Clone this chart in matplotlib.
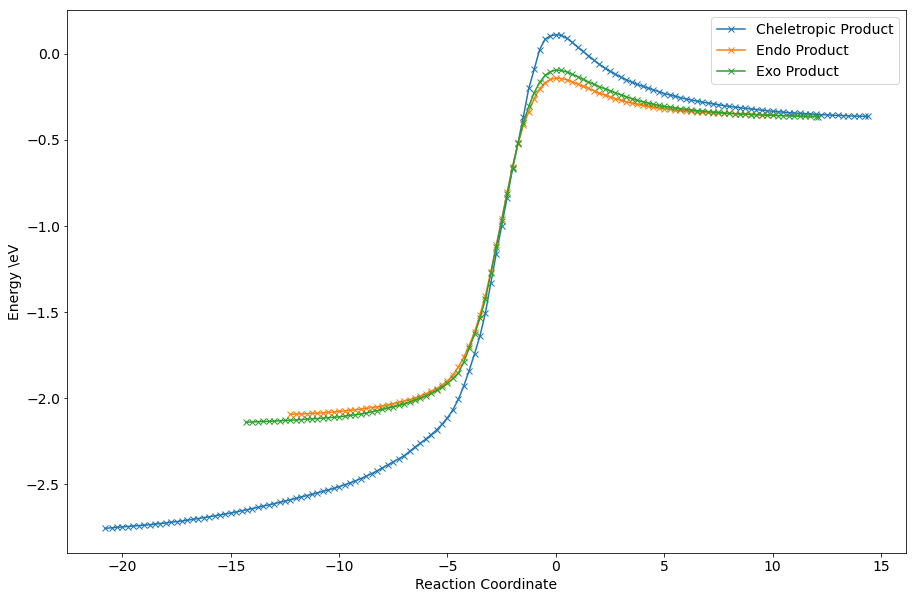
import matplotlib
matplotlib.use("Agg")
import matplotlib.pyplot as plt

plt.rcParams['font.family'] = ['DejaVu Sans']
plt.rcParams['font.size'] = 14

series_names = ["Cheletropic Product", "Endo Product", "Exo Product"]

chel_x = [-20.8, -20.5, -20.25, -20.0, -19.75, -19.5, -19.25, -19.0, -18.75, -18.5, -18.25, -18.0,
          -17.75, -17.5, -17.25, -17.0, -16.75, -16.5, -16.25, -16.0, -15.75, -15.5, -15.25, -15.0,
          -14.75, -14.5, -14.25, -14.0, -13.75, -13.5, -13.25, -13.0, -12.75, -12.5, -12.25, -12.0,
          -11.75, -11.5, -11.25, -11.0, -10.75, -10.5, -10.25, -10.0, -9.75, -9.5, -9.25, -9.0,
          -8.75, -8.5, -8.25, -8.0, -7.75, -7.5, -7.25, -7.0, -6.75, -6.5, -6.25, -6.0,
          -5.75, -5.5, -5.25, -5.0, -4.75, -4.5, -4.25, -4.0, -3.75, -3.5, -3.25, -3.0,
          -2.75, -2.5, -2.25, -2.0, -1.75, -1.5, -1.25, -1.0, -0.75, -0.5, -0.25, 0.0,
          0.25, 0.5, 0.75, 1.0, 1.25, 1.5, 1.75, 2.0, 2.25, 2.5, 2.75, 3.0,
          3.25, 3.5, 3.75, 4.0, 4.25, 4.5, 4.75, 5.0, 5.25, 5.5, 5.75, 6.0,
          6.25, 6.5, 6.75, 7.0, 7.25, 7.5, 7.75, 8.0, 8.25, 8.5, 8.75, 9.0,
          9.25, 9.5, 9.75, 10.0, 10.25, 10.5, 10.75, 11.0, 11.25, 11.5, 11.75, 12.0,
          12.25, 12.5, 12.75, 13.0, 13.25, 13.5, 13.75, 14.0, 14.25, 14.4]
chel_y = [-2.757, -2.754, -2.752, -2.749, -2.747, -2.744, -2.742, -2.739, -2.736, -2.733, -2.729, -2.726,
          -2.722, -2.718, -2.714, -2.710, -2.705, -2.700, -2.695, -2.690, -2.685, -2.679, -2.674, -2.668,
          -2.662, -2.655, -2.649, -2.642, -2.635, -2.628, -2.621, -2.614, -2.606, -2.599, -2.591, -2.583,
          -2.575, -2.567, -2.559, -2.551, -2.542, -2.534, -2.525, -2.515, -2.504, -2.493, -2.481, -2.468,
          -2.454, -2.439, -2.423, -2.405, -2.388, -2.370, -2.353, -2.335, -2.310, -2.285, -2.262, -2.238,
          -2.212, -2.184, -2.152, -2.114, -2.068, -2.008, -1.930, -1.840, -1.742, -1.638, -1.505, -1.330,
          -1.160, -1.000, -0.835, -0.670, -0.520, -0.365, -0.200, -0.090, 0.025, 0.085, 0.105, 0.112,
          0.108, 0.092, 0.068, 0.040, 0.015, -0.010, -0.035, -0.060, -0.081, -0.100, -0.118, -0.135,
          -0.150, -0.164, -0.176, -0.188, -0.198, -0.208, -0.219, -0.230, -0.238, -0.246, -0.254, -0.262,
          -0.268, -0.274, -0.280, -0.285, -0.290, -0.295, -0.300, -0.305, -0.309, -0.313, -0.316, -0.320,
          -0.323, -0.327, -0.330, -0.333, -0.336, -0.338, -0.341, -0.343, -0.345, -0.347, -0.349, -0.351,
          -0.353, -0.354, -0.356, -0.357, -0.358, -0.360, -0.361, -0.362, -0.363, -0.363]

endo_x = [-12.25, -12.0, -11.75, -11.5, -11.25, -11.0, -10.75, -10.5, -10.25, -10.0, -9.75, -9.5,
          -9.25, -9.0, -8.75, -8.5, -8.25, -8.0, -7.75, -7.5, -7.25, -7.0, -6.75, -6.5,
          -6.25, -6.0, -5.75, -5.5, -5.25, -5.0, -4.75, -4.5, -4.25, -4.0, -3.75, -3.5,
          -3.25, -3.0, -2.75, -2.5, -2.25, -2.0, -1.75, -1.5, -1.25, -1.0, -0.75, -0.5,
          -0.25, 0.0, 0.25, 0.5, 0.75, 1.0, 1.25, 1.5, 1.75, 2.0, 2.25, 2.5,
          2.75, 3.0, 3.25, 3.5, 3.75, 4.0, 4.25, 4.5, 4.75, 5.0, 5.25, 5.5,
          5.75, 6.0, 6.25, 6.5, 6.75, 7.0, 7.25, 7.5, 7.75, 8.0, 8.25, 8.5,
          8.75, 9.0, 9.25, 9.5, 9.75, 10.0]
endo_y = [-2.094, -2.093, -2.092, -2.091, -2.089, -2.088, -2.086, -2.083, -2.081, -2.078, -2.075, -2.071,
          -2.068, -2.064, -2.060, -2.055, -2.051, -2.046, -2.039, -2.032, -2.025, -2.018, -2.009, -2.000,
          -1.988, -1.975, -1.960, -1.945, -1.924, -1.900, -1.865, -1.820, -1.762, -1.695, -1.615, -1.515,
          -1.405, -1.265, -1.110, -0.960, -0.805, -0.655, -0.525, -0.415, -0.335, -0.260, -0.203, -0.167,
          -0.148, -0.141, -0.143, -0.150, -0.162, -0.175, -0.188, -0.200, -0.214, -0.228, -0.239, -0.250,
          -0.260, -0.270, -0.278, -0.286, -0.292, -0.298, -0.304, -0.309, -0.314, -0.318, -0.321, -0.325,
          -0.328, -0.331, -0.333, -0.336, -0.338, -0.340, -0.342, -0.343, -0.345, -0.346, -0.347, -0.348,
          -0.349, -0.351, -0.352, -0.353, -0.354, -0.355]

exo_x = [-14.3, -14.0, -13.75, -13.5, -13.25, -13.0, -12.75, -12.5, -12.25, -12.0, -11.75, -11.5,
         -11.25, -11.0, -10.75, -10.5, -10.25, -10.0, -9.75, -9.5, -9.25, -9.0, -8.75, -8.5,
         -8.25, -8.0, -7.75, -7.5, -7.25, -7.0, -6.75, -6.5, -6.25, -6.0, -5.75, -5.5,
         -5.25, -5.0, -4.75, -4.5, -4.25, -4.0, -3.75, -3.5, -3.25, -3.0, -2.75, -2.5,
         -2.25, -2.0, -1.75, -1.5, -1.25, -1.0, -0.75, -0.5, -0.25, 0.0, 0.25, 0.5,
         0.75, 1.0, 1.25, 1.5, 1.75, 2.0, 2.25, 2.5, 2.75, 3.0, 3.25, 3.5,
         3.75, 4.0, 4.25, 4.5, 4.75, 5.0, 5.25, 5.5, 5.75, 6.0, 6.25, 6.5,
         6.75, 7.0, 7.25, 7.5, 7.75, 8.0, 8.25, 8.5, 8.75, 9.0, 9.25, 9.5,
         9.75, 10.0, 10.25, 10.5, 10.75, 11.0, 11.25, 11.5, 11.75, 12.0, 12.1]
exo_y = [-2.140, -2.139, -2.137, -2.136, -2.135, -2.134, -2.132, -2.130, -2.129, -2.127, -2.125, -2.123,
         -2.121, -2.119, -2.117, -2.114, -2.112, -2.109, -2.105, -2.101, -2.097, -2.093, -2.087, -2.080,
         -2.073, -2.066, -2.058, -2.051, -2.043, -2.035, -2.024, -2.012, -2.000, -1.988, -1.972, -1.955,
         -1.936, -1.915, -1.886, -1.855, -1.790, -1.710, -1.630, -1.535, -1.425, -1.275, -1.120, -0.970,
         -0.815, -0.660, -0.520, -0.400, -0.305, -0.225, -0.165, -0.125, -0.103, -0.094, -0.096, -0.104,
         -0.118, -0.132, -0.147, -0.162, -0.176, -0.190, -0.202, -0.214, -0.226, -0.238, -0.249, -0.260,
         -0.269, -0.277, -0.285, -0.292, -0.299, -0.305, -0.309, -0.314, -0.318, -0.322, -0.325, -0.329,
         -0.332, -0.335, -0.338, -0.340, -0.343, -0.345, -0.347, -0.349, -0.350, -0.352, -0.353, -0.355,
         -0.356, -0.357, -0.358, -0.359, -0.360, -0.361, -0.362, -0.363, -0.363, -0.364, -0.364]

x_label = "Reaction Coordinate"
y_label = "Energy \\eV"

fig = plt.figure(figsize=(914 / 72, 600 / 72), dpi=72)
ax = fig.add_axes([67 / 914, 1 - 553 / 600, (906 - 67) / 914, (553 - 10) / 600])

ax.plot(chel_x, chel_y, marker='x', label=series_names[0])
ax.plot(endo_x, endo_y, marker='x', label=series_names[1])
ax.plot(exo_x, exo_y, marker='x', label=series_names[2])

ax.set_xlabel(x_label)
ax.set_ylabel(y_label)
ax.legend(loc='upper right')

fig.savefig("out.png", dpi=72)
